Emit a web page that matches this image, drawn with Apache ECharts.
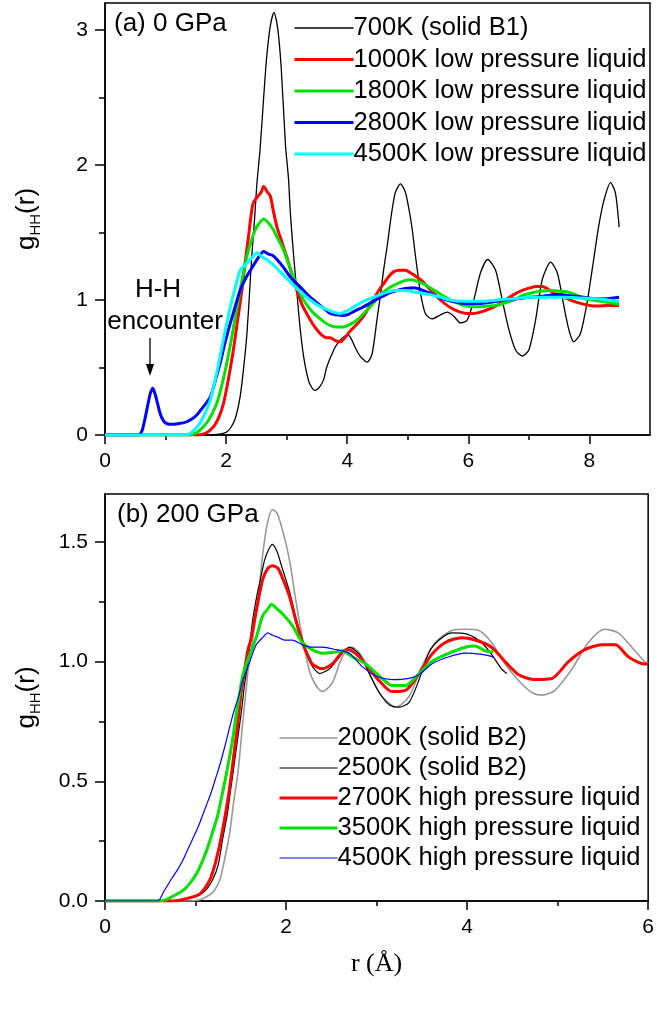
<!DOCTYPE html>
<html>
<head>
<meta charset="utf-8">
<script src="https://cdn.jsdelivr.net/npm/echarts@6/dist/echarts.min.js"></script>
<style>
  html, body { margin: 0; padding: 0; background: #fff; }
  #chart { width: 657px; height: 1014px; }
</style>
</head>
<body>
<div id="chart"></div>
<script>
// ---- Panel (a): 0 GPa, g_HH(r) vs r (Å) ----
const namesA = ['700K (solid B1)', '1000K low pressure liquid', '1800K low pressure liquid',
  '2800K low pressure liquid', '4500K low pressure liquid'];

const k700 = [[0,0],[1.6,0],[1.85,0.005],[2.0,0.02],[2.07,0.05],[2.15,0.12],[2.23,0.28],[2.29,0.5],[2.34,0.73],[2.38,1.0],[2.42,1.30],[2.47,1.6],[2.51,1.87],[2.56,2.11],[2.62,2.5],[2.67,2.8],[2.73,3.03],[2.79,3.13],[2.85,3.02],[2.91,2.72],[2.98,2.15],[3.03,1.9],[3.06,1.65],[3.12,1.3],[3.17,1.05],[3.22,0.8],[3.28,0.58],[3.34,0.44],[3.39,0.37],[3.47,0.33],[3.55,0.36],[3.61,0.41],[3.66,0.5],[3.72,0.57],[3.80,0.65],[3.88,0.70],[3.95,0.73],[4.02,0.74],[4.08,0.70],[4.13,0.65],[4.19,0.6],[4.24,0.57],[4.33,0.54],[4.41,0.60],[4.49,0.85],[4.55,1.04],[4.60,1.22],[4.66,1.4],[4.71,1.57],[4.79,1.79],[4.88,1.86],[4.96,1.80],[5.04,1.62],[5.08,1.5],[5.12,1.35],[5.17,1.18],[5.21,1.05],[5.29,0.90],[5.40,0.86],[5.54,0.89],[5.65,0.91],[5.76,0.88],[5.87,0.83],[5.98,0.85],[6.09,1.0],[6.20,1.20],[6.32,1.30],[6.45,1.22],[6.56,1.0],[6.67,0.78],[6.78,0.63],[6.89,0.585],[7.0,0.63],[7.11,0.85],[7.22,1.15],[7.36,1.28],[7.47,1.20],[7.58,0.95],[7.66,0.78],[7.74,0.69],[7.85,0.75],[7.96,0.98],[8.07,1.30],[8.15,1.54],[8.24,1.74],[8.35,1.87],[8.43,1.79],[8.49,1.54]];

const k1000 = [[0,0],[1.5,0],[1.65,0.01],[1.79,0.06],[1.88,0.13],[1.96,0.24],[2.04,0.42],[2.12,0.63],[2.19,0.85],[2.26,1.07],[2.32,1.3],[2.37,1.47],[2.41,1.62],[2.45,1.72],[2.53,1.77],[2.58,1.8],[2.62,1.84],[2.68,1.8],[2.73,1.77],[2.78,1.66],[2.84,1.54],[2.92,1.43],[3.0,1.32],[3.08,1.2],[3.17,1.07],[3.25,0.97],[3.33,0.90],[3.42,0.83],[3.50,0.78],[3.58,0.74],[3.66,0.72],[3.72,0.72],[3.80,0.70],[3.88,0.69],[3.96,0.72],[4.05,0.77],[4.16,0.82],[4.27,0.88],[4.35,0.94],[4.43,1.0],[4.52,1.07],[4.60,1.12],[4.68,1.17],[4.77,1.21],[4.86,1.22],[4.96,1.22],[5.05,1.2],[5.15,1.17],[5.24,1.14],[5.32,1.10],[5.43,1.05],[5.54,1.0],[5.65,0.96],[5.76,0.93],[5.87,0.91],[5.98,0.90],[6.09,0.90],[6.20,0.91],[6.33,0.93],[6.47,0.96],[6.61,1.0],[6.75,1.04],[6.88,1.07],[7.02,1.09],[7.12,1.1],[7.22,1.10],[7.32,1.08],[7.41,1.05],[7.52,1.03],[7.63,1.01],[7.74,0.99],[7.85,0.975],[8.0,0.96],[8.13,0.955],[8.3,0.96],[8.49,0.96]];

const k1800 = [[0,0],[1.4,0],[1.55,0.03],[1.68,0.09],[1.76,0.15],[1.85,0.24],[1.93,0.37],[2.01,0.53],[2.1,0.74],[2.18,0.95],[2.26,1.14],[2.34,1.32],[2.41,1.43],[2.48,1.52],[2.55,1.57],[2.62,1.60],[2.70,1.57],[2.78,1.52],[2.86,1.45],[2.95,1.37],[3.03,1.27],[3.11,1.17],[3.2,1.08],[3.28,1.0],[3.39,0.93],[3.50,0.88],[3.61,0.84],[3.72,0.81],[3.83,0.80],[3.94,0.80],[4.05,0.82],[4.16,0.85],[4.27,0.9],[4.38,0.95],[4.49,1.01],[4.60,1.06],[4.71,1.095],[4.82,1.12],[4.93,1.14],[5.04,1.15],[5.15,1.14],[5.26,1.12],[5.37,1.09],[5.48,1.06],[5.59,1.03],[5.70,1.0],[5.81,0.98],[5.92,0.96],[6.06,0.95],[6.20,0.95],[6.33,0.955],[6.47,0.96],[6.61,0.98],[6.75,1.0],[6.88,1.03],[7.02,1.05],[7.19,1.065],[7.36,1.07],[7.50,1.065],[7.63,1.06],[7.77,1.04],[7.91,1.01],[8.05,1.0],[8.18,0.99],[8.33,0.98],[8.49,0.97]];

const k2800 = [[0,0],[0.55,0],[0.61,0.03],[0.66,0.12],[0.71,0.23],[0.75,0.31],[0.79,0.346],[0.83,0.30],[0.87,0.23],[0.91,0.16],[0.96,0.11],[1.0,0.09],[1.07,0.08],[1.15,0.08],[1.22,0.085],[1.29,0.09],[1.36,0.1],[1.44,0.12],[1.52,0.15],[1.59,0.19],[1.66,0.23],[1.74,0.28],[1.82,0.40],[1.90,0.53],[1.98,0.68],[2.07,0.83],[2.15,0.95],[2.23,1.07],[2.31,1.15],[2.40,1.22],[2.47,1.27],[2.54,1.32],[2.62,1.36],[2.7,1.34],[2.77,1.33],[2.84,1.30],[2.95,1.24],[3.06,1.17],[3.17,1.12],[3.28,1.07],[3.39,1.02],[3.47,0.99],[3.55,0.96],[3.64,0.93],[3.72,0.90],[3.83,0.89],[3.92,0.885],[4.0,0.89],[4.13,0.92],[4.27,0.95],[4.41,0.985],[4.55,1.02],[4.68,1.05],[4.82,1.07],[4.96,1.085],[5.10,1.09],[5.23,1.075],[5.37,1.05],[5.51,1.02],[5.65,1.0],[5.78,0.985],[5.92,0.975],[6.06,0.975],[6.20,0.975],[6.40,0.985],[6.58,1.0],[6.80,1.01],[7.02,1.02],[7.25,1.03],[7.47,1.04],[7.7,1.03],[7.91,1.02],[8.1,1.01],[8.29,1.01],[8.49,1.02]];

const k4500a = [[0,0],[1.3,0],[1.4,0.01],[1.5,0.05],[1.57,0.09],[1.66,0.17],[1.74,0.26],[1.82,0.41],[1.90,0.58],[1.98,0.76],[2.07,0.95],[2.15,1.09],[2.23,1.22],[2.29,1.25],[2.34,1.27],[2.42,1.31],[2.51,1.35],[2.59,1.32],[2.67,1.30],[2.78,1.26],[2.89,1.21],[3.0,1.16],[3.11,1.11],[3.25,1.05],[3.39,1.0],[3.52,0.96],[3.66,0.93],[3.77,0.91],[3.88,0.90],[4.0,0.92],[4.13,0.955],[4.27,0.99],[4.41,1.015],[4.55,1.04],[4.68,1.06],[4.82,1.07],[4.96,1.07],[5.10,1.06],[5.23,1.05],[5.37,1.04],[5.54,1.02],[5.70,1.0],[5.87,0.99],[6.03,0.99],[6.25,0.99],[6.47,1.0],[6.75,1.01],[7.02,1.02],[7.3,1.02],[7.58,1.02],[7.85,1.015],[8.13,1.01],[8.3,1.0],[8.49,0.99]];

// ---- Panel (b): 200 GPa ----
const namesB = ['2000K (solid B2)', '2500K (solid B2)', '2700K high pressure liquid',
  '3500K high pressure liquid', '4500K high pressure liquid'];

const k2000 = [[0,0],[0.95,0],[1.05,0.005],[1.13,0.02],[1.2,0.04],[1.27,0.09],[1.33,0.19],[1.38,0.29],[1.42,0.41],[1.47,0.54],[1.52,0.74],[1.55,0.85],[1.58,0.96],[1.62,1.06],[1.66,1.17],[1.69,1.26],[1.74,1.44],[1.79,1.57],[1.85,1.635],[1.9,1.62],[1.96,1.55],[2.04,1.42],[2.11,1.25],[2.18,1.1],[2.26,0.96],[2.33,0.9],[2.40,0.875],[2.51,0.91],[2.62,1.02],[2.73,1.06],[2.84,1.02],[2.95,0.925],[3.06,0.855],[3.21,0.81],[3.36,0.855],[3.50,0.98],[3.65,1.08],[3.83,1.13],[3.98,1.135],[4.13,1.13],[4.27,1.08],[4.42,0.99],[4.57,0.92],[4.72,0.87],[4.83,0.86],[4.97,0.88],[5.16,0.97],[5.34,1.08],[5.52,1.135],[5.67,1.12],[5.82,1.06],[5.96,1.0],[6.0,0.99]];

const k2500 = [[0,0],[0.7,0],[0.85,0.005],[1.0,0.02],[1.1,0.04],[1.19,0.09],[1.25,0.15],[1.30,0.26],[1.35,0.36],[1.39,0.47],[1.43,0.58],[1.47,0.69],[1.51,0.80],[1.54,0.90],[1.58,1.0],[1.63,1.17],[1.68,1.28],[1.71,1.33],[1.76,1.42],[1.81,1.47],[1.85,1.49],[1.90,1.46],[1.95,1.40],[2.04,1.29],[2.11,1.18],[2.18,1.09],[2.26,1.0],[2.31,0.97],[2.37,0.95],[2.48,0.97],[2.59,1.02],[2.70,1.06],[2.81,1.03],[2.92,0.95],[3.03,0.87],[3.14,0.82],[3.25,0.81],[3.36,0.83],[3.47,0.925],[3.58,1.04],[3.69,1.09],[3.83,1.12],[4.0,1.115],[4.16,1.08],[4.27,1.03],[4.38,0.97],[4.44,0.95]];

const k2700 = [[0,0],[0.75,0],[0.85,0.005],[0.95,0.015],[1.05,0.03],[1.16,0.09],[1.22,0.16],[1.27,0.24],[1.32,0.34],[1.36,0.43],[1.40,0.54],[1.43,0.63],[1.47,0.75],[1.50,0.86],[1.54,0.96],[1.58,1.05],[1.61,1.09],[1.67,1.21],[1.74,1.34],[1.80,1.39],[1.85,1.40],[1.91,1.39],[1.96,1.35],[2.04,1.27],[2.11,1.17],[2.18,1.08],[2.26,1.01],[2.29,0.99],[2.40,0.97],[2.51,0.99],[2.62,1.04],[2.68,1.05],[2.81,1.02],[2.92,0.97],[3.03,0.92],[3.17,0.875],[3.32,0.88],[3.47,0.95],[3.61,1.03],[3.76,1.08],[3.94,1.10],[4.09,1.09],[4.27,1.06],[4.42,1.0],[4.57,0.945],[4.75,0.925],[4.94,0.93],[5.12,1.0],[5.30,1.05],[5.49,1.07],[5.64,1.07],[5.78,1.02],[5.96,0.99],[6.0,0.99]];

const k3500 = [[0,0],[0.62,0],[0.7,0.01],[0.8,0.03],[0.88,0.05],[0.95,0.08],[1.02,0.12],[1.08,0.17],[1.14,0.23],[1.19,0.29],[1.24,0.35],[1.28,0.42],[1.33,0.51],[1.38,0.61],[1.42,0.70],[1.45,0.78],[1.48,0.85],[1.52,0.94],[1.56,0.99],[1.60,1.03],[1.67,1.10],[1.74,1.19],[1.80,1.22],[1.84,1.24],[1.90,1.22],[1.96,1.20],[2.07,1.15],[2.18,1.08],[2.29,1.05],[2.40,1.035],[2.55,1.04],[2.62,1.045],[2.73,1.02],[2.88,0.99],[3.03,0.94],[3.17,0.90],[3.32,0.90],[3.47,0.95],[3.61,1.0],[3.80,1.035],[3.98,1.06],[4.09,1.065],[4.20,1.045],[4.29,1.04]];

const k4500b = [[0,0],[0.58,0],[0.65,0.04],[0.73,0.09],[0.80,0.13],[0.86,0.17],[0.92,0.22],[0.97,0.26],[1.03,0.31],[1.08,0.36],[1.12,0.40],[1.17,0.45],[1.22,0.51],[1.27,0.57],[1.32,0.64],[1.36,0.70],[1.40,0.76],[1.43,0.80],[1.48,0.86],[1.52,0.92],[1.56,0.96],[1.60,1.0],[1.67,1.07],[1.74,1.10],[1.80,1.12],[1.85,1.11],[1.92,1.10],[1.98,1.09],[2.07,1.09],[2.18,1.07],[2.29,1.06],[2.40,1.06],[2.55,1.05],[2.70,1.035],[2.84,0.98],[2.99,0.94],[3.17,0.925],[3.36,0.93],[3.47,0.945],[3.61,0.99],[3.80,1.02],[3.98,1.035],[4.16,1.03],[4.29,1.02]];

// Tick labels
const xTicksA = [0, 2, 4, 6, 8];
const yTicksA = [0, 1, 2, 3];
const xTicksB = [0, 2, 4, 6];
const yTicksB = [0, 0.5, 1.0, 1.5];

const SANS = '"Liberation Sans", Arial, sans-serif';
const chart = echarts.init(document.getElementById('chart'), null, { renderer: 'canvas' });

function xAxis(gridIndex, max, ticks, withName) {
  return {
    type: 'value', gridIndex, min: 0, max, interval: 2,
    axisLine: { show: true, onZero: false, lineStyle: { color: '#000', width: 1.5 } },
    axisTick: { show: true, inside: false, length: 9, lineStyle: { color: '#000', width: 1.5 }, customValues: ticks },
    minorTick: { show: true, splitNumber: 2, length: 5, lineStyle: { color: '#000', width: 1.5 } },
    axisLabel: { customValues: ticks, margin: 16, color: '#000', fontSize: 21, fontFamily: SANS },
    splitLine: { show: false },
    name: withName ? 'r (Å)' : '',
    nameLocation: 'middle', nameGap: 50,
    nameTextStyle: { color: '#000', fontSize: 26, fontFamily: '"Liberation Serif", "Times New Roman", serif' }
  };
}

function yAxis(gridIndex, max, interval, ticks, fmt) {
  return {
    type: 'value', gridIndex, min: 0, max, interval,
    axisLine: { show: true, onZero: false, lineStyle: { color: '#000', width: 1.5 } },
    axisTick: { show: true, inside: false, length: 10, lineStyle: { color: '#000', width: 1.5 }, customValues: ticks },
    minorTick: { show: true, splitNumber: 2, length: 6, lineStyle: { color: '#000', width: 1.5 } },
    axisLabel: { customValues: ticks, margin: 17, color: '#000', fontSize: 21, fontFamily: SANS, formatter: fmt },
    splitLine: { show: false },
    name: '{m|g}{s|HH}{m|(r)}',
    nameLocation: 'middle', nameGap: 62, nameRotate: 90,
    nameTextStyle: {
      color: '#000', fontFamily: SANS,
      rich: {
        m: { fontSize: 26, lineHeight: 32, fontFamily: SANS, color: '#000' },
        s: { fontSize: 15, lineHeight: 32, verticalAlign: 'bottom', fontFamily: SANS, color: '#000' }
      }
    }
  };
}

function line(name, data, color, width, xi, yi) {
  return {
    type: 'line', name, data, xAxisIndex: xi, yAxisIndex: yi,
    showSymbol: false, symbol: 'none', smooth: 0.25, silent: true,
    lineStyle: { color, width }, itemStyle: { color }
  };
}

const legendText = { color: '#000', fontSize: 25.6, fontFamily: SANS, lineHeight: 26, padding: [0, 0, 0, -5] };

const option = {
  backgroundColor: '#fff',
  animation: false,
  grid: [
    { left: 105, top: 3, width: 545, height: 432, show: true, borderColor: '#000', borderWidth: 1.5, backgroundColor: 'transparent' },
    { left: 105, top: 494, width: 545, height: 407, show: true, borderColor: '#000', borderWidth: 1.5, backgroundColor: 'transparent' }
  ],
  xAxis: [xAxis(0, 9, xTicksA, false), xAxis(1, 6, xTicksB, true)],
  yAxis: [
    yAxis(0, 3.2, 1, yTicksA, v => String(v)),
    yAxis(1, 1.7, 0.5, yTicksB, v => v.toFixed(1))
  ],
  legend: [
    {
      data: namesA, orient: 'vertical', left: 293, top: 15, padding: 0,
      itemWidth: 59, itemHeight: 14, itemGap: 5.5, selectedMode: false,
      itemStyle: { opacity: 0 },
      lineStyle: { width: 'inherit' },
      textStyle: legendText
    },
    {
      data: namesB, orient: 'vertical', left: 278, top: 725, padding: 0,
      itemWidth: 58, itemHeight: 14, itemGap: 4, selectedMode: false,
      itemStyle: { opacity: 0 },
      lineStyle: { width: 'inherit' },
      textStyle: legendText
    }
  ],
  series: [
    line(namesA[0], k700, '#000000', 1.3, 0, 0),
    line(namesA[1], k1000, '#ff0000', 3, 0, 0),
    line(namesA[2], k1800, '#00e000', 3, 0, 0),
    line(namesA[3], k2800, '#0000ff', 3, 0, 0),
    line(namesA[4], k4500a, '#00ffff', 3, 0, 0),
    line(namesB[0], k2000, '#999999', 1.6, 1, 1),
    line(namesB[1], k2500, '#000000', 1.2, 1, 1),
    line(namesB[2], k2700, '#ff0000', 3, 1, 1),
    line(namesB[3], k3500, '#00e000', 3, 1, 1),
    line(namesB[4], k4500b, '#0000ff', 1.2, 1, 1)
  ],
  graphic: [
    { type: 'text', left: 114, top: 11, style: { text: '(a) 0 GPa', fontSize: 26, fontFamily: SANS, fill: '#000' } },
    { type: 'text', left: 117, top: 502, style: { text: '(b) 200 GPa', fontSize: 26, fontFamily: SANS, fill: '#000' } },
    { type: 'text', x: 158, y: 290, style: { text: 'H-H', fontSize: 26, fontFamily: SANS, fill: '#000', align: 'center', verticalAlign: 'middle' } },
    { type: 'text', x: 165, y: 322, style: { text: 'encounter', fontSize: 26, fontFamily: SANS, fill: '#000', align: 'center', verticalAlign: 'middle' } },
    { type: 'line', shape: { x1: 150, y1: 338, x2: 150, y2: 366 }, style: { stroke: '#000', lineWidth: 1.3 } },
    { type: 'polygon', shape: { points: [[146, 364], [154, 364], [150, 376]] }, style: { fill: '#000' } }
  ]
};

chart.setOption(option);
</script>
</body>
</html>
